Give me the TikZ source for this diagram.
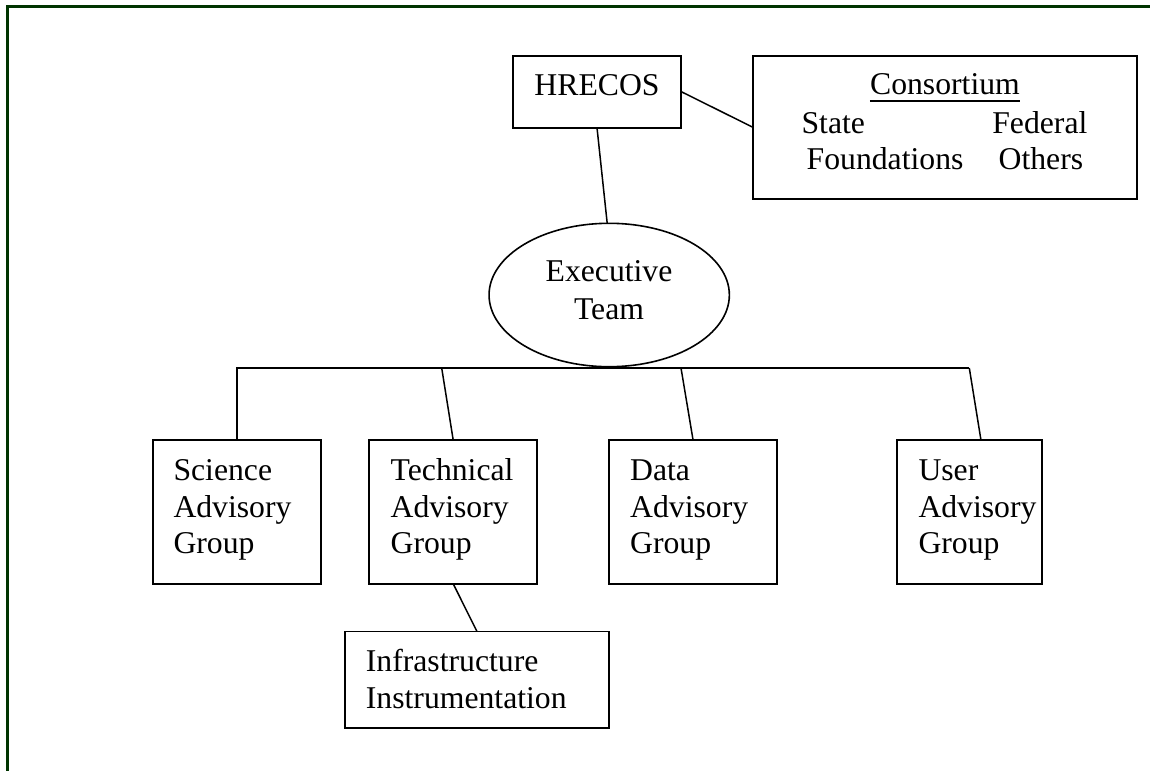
\documentclass[tikz,border=0pt]{standalone}
\usepackage{fontspec}
\setmainfont{Liberation Serif}
\usetikzlibrary{shapes.geometric}
\definecolor{bordergreen}{RGB}{0,52,0}
\newcommand\diagfont{\fontsize{31.7bp}{36.7bp}\selectfont}
\begin{document}
\begin{tikzpicture}[x=1bp,y=-1bp,
  box/.style={draw, line width=1.9bp, inner sep=0pt, outer sep=0pt, anchor=north west},
  conn/.style={line width=1.5bp},
  lbl/.style={anchor=base west, inner sep=0pt, font=\diagfont},
  clbl/.style={anchor=base, inner sep=0pt, font=\diagfont},
  rlbl/.style={anchor=base east, inner sep=0pt, font=\diagfont}]
\useasboundingbox (0,0) rectangle (1150,771);
% page border
\draw[bordergreen, line width=2.6bp] (1155,6.3) -- (7.7,6.3) -- (7.7,776);

% boxes
\node[box, minimum width=168.6bp, minimum height=72bp] (hrecos) at (512.7,55.7) {};
\node[box, minimum width=383.4bp, minimum height=143.6bp] (cons) at (753.3,55.7) {};
\node[ellipse, draw, line width=1.6bp, inner sep=0pt, outer sep=0pt,
      minimum width=240.3bp, minimum height=143.4bp] (exec) at (609.2,295) {};
\node[box, minimum width=168.3bp, minimum height=144bp] (sci) at (152.7,439.7) {};
\node[box, minimum width=168.3bp, minimum height=144bp] (tech) at (369,439.7) {};
\node[box, minimum width=168bp, minimum height=144bp] (data) at (609,439.7) {};
\node[box, minimum width=145bp, minimum height=144bp] (user) at (897,439.7) {};
\node[box, minimum width=264.6bp, minimum height=96.2bp] (infra) at (344.7,631.5) {};

% texts
\node[clbl] (hrecosT) at (597,96) {HRECOS};
\node[clbl] (consT) at (945,95) {Consortium};
\draw[line width=1.3bp] ([yshift=-6bp]consT.base west) -- ([yshift=-6bp]consT.base east);
\node[lbl] (stateT) at (801.4,133.3) {State};
\node[rlbl] (fedT) at (1087.6,133.3) {Federal};
\node[lbl] (foundT) at (806.5,169.3) {Foundations};
\node[rlbl] (othT) at (1083.4,169.3) {Others};
\node[clbl] (execA) at (609,281.7) {Executive};
\node[clbl] (execB) at (609,319) {Team};
\node[lbl] (sciA) at (173.3,480.5) {Science};
\node[lbl] (sciB) at (173.3,517) {Advisory};
\node[lbl] (sciC) at (173.3,553.5) {Group};
\node[lbl] (techA) at (390.5,480.5) {Technical};
\node[lbl] (techB) at (390.5,517) {Advisory};
\node[lbl] (techC) at (390.5,553.5) {Group};
\node[lbl] (dataA) at (630,480.5) {Data};
\node[lbl] (dataB) at (630,517) {Advisory};
\node[lbl] (dataC) at (630,553.5) {Group};
\node[lbl] (userA) at (918.3,480.5) {User};
\node[lbl] (userB) at (918.3,517) {Advisory};
\node[lbl] (userC) at (918.3,553.5) {Group};
\node[lbl] (infraA) at (365.7,671) {Infrastructure};
\node[lbl] (infraB) at (365.7,708) {Instrumentation};

% connectors
\coordinate (bT) at (441.7,368);
\coordinate (bD) at (681,368);
\coordinate (bU) at (969.3,368);
\draw[conn] (hrecos.east) -- (cons.west);
\draw[conn] (hrecos.south) -- ([xshift=-2bp]exec.north);
\draw[conn] (sci.north) |- (bU);
\draw[conn] (bT) -- (tech.north);
\draw[conn] (bD) -- (data.north);
\draw[conn] (bU) -- ([xshift=11.4bp]user.north);
\draw[conn] (tech.south) -- (infra.north);
\end{tikzpicture}
\end{document}
